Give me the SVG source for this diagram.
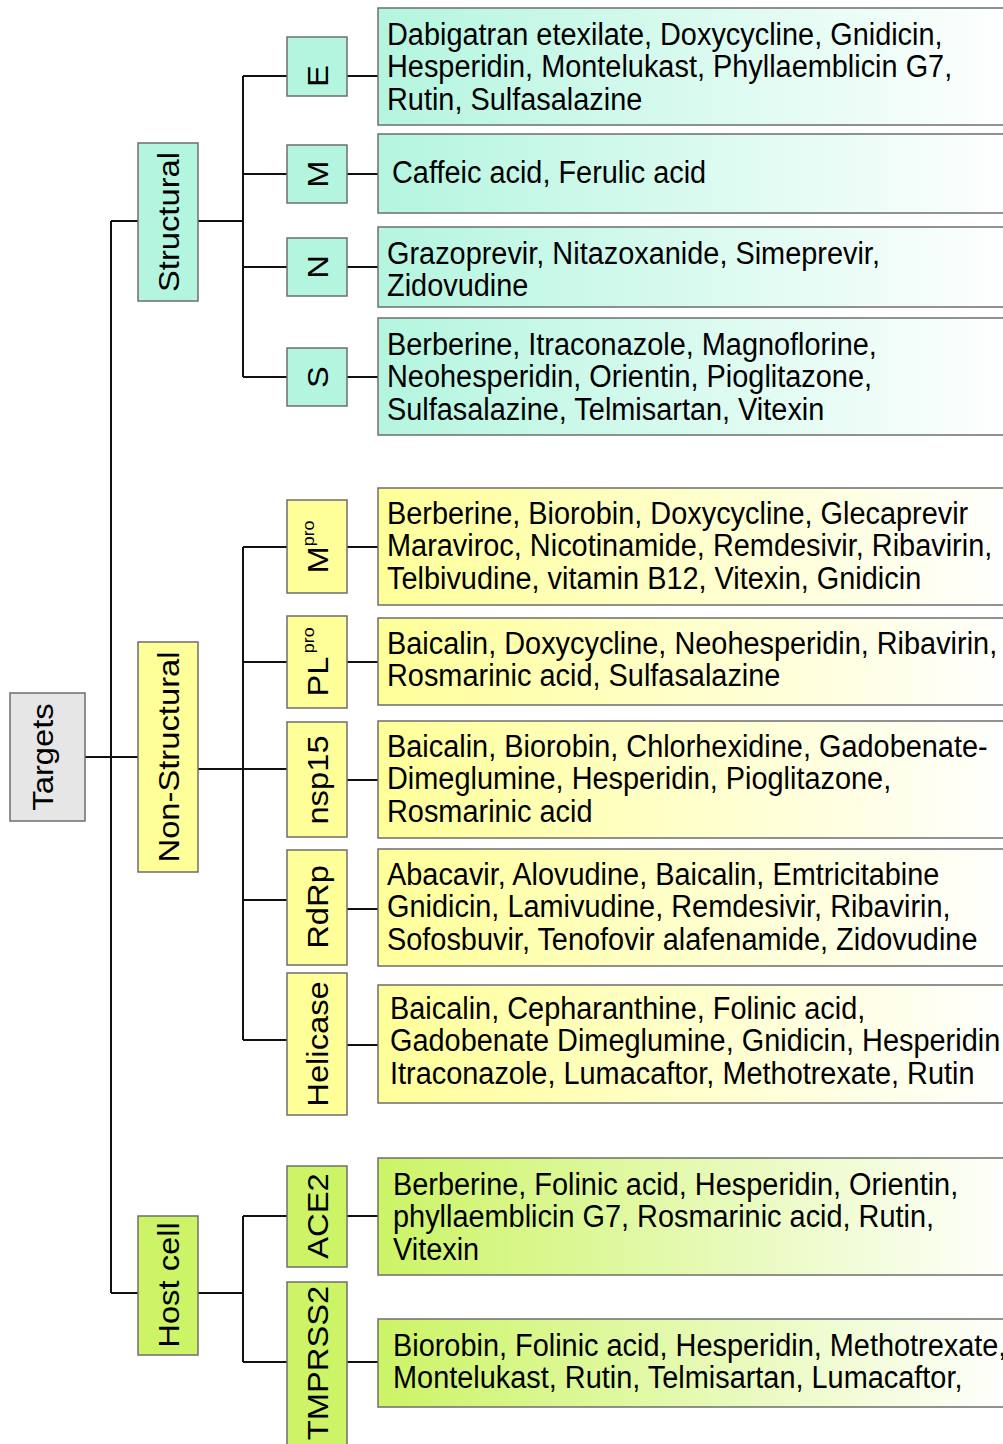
<svg xmlns="http://www.w3.org/2000/svg" width="1003" height="1444" viewBox="0 0 1003 1444">
<style>
.box{stroke:#6e6e6e;stroke-width:1.5}
.gray{fill:#e6e6e6}
.teal{fill:#b4f5e0}
.yel{fill:#ffff99}
.grn{fill:#ccf466}
.dt{fill:url(#gT)}
.dy{fill:url(#gY)}
.dg{fill:url(#gG)}
.ln{stroke:#111;stroke-width:2;fill:none}
text{font-family:"Liberation Sans",Arial,sans-serif;font-size:28.9px;fill:#000}
.r{text-anchor:middle;font-size:29.5px}
.sup{font-size:16px}
</style>
<defs>
<linearGradient id="gT" x1="0" y1="0" x2="1" y2="0"><stop offset="0" stop-color="#b4f5e0"/><stop offset="1" stop-color="#ffffff"/></linearGradient>
<linearGradient id="gY" x1="0" y1="0" x2="1" y2="0"><stop offset="0" stop-color="#ffff99"/><stop offset="1" stop-color="#ffffff"/></linearGradient>
<linearGradient id="gG" x1="0" y1="0" x2="1" y2="0"><stop offset="0" stop-color="#ccf466"/><stop offset="1" stop-color="#ffffff"/></linearGradient>
</defs>
<g id="connectors" class="ln">
<path d="M85,757H138M111,221V1293M111,221H138M111,1293H138"/>
<path d="M198,221H243M243,76V377M243,76H287M347,76H378M243,174H287M347,174H378M243,267H287M347,267H378M243,377H287M347,377H378"/>
<path d="M198,769H243M243,547V1040M243,547H287M347,547H378M243,662H287M347,662H378M243,769H287M347,780H378M243,900H287M347,909H378M243,1040H287M347,1045H378"/>
<path d="M198,1293H243M243,1216V1362M243,1216H287M347,1216H378M243,1362H287M347,1362H378"/>
</g>
<g id="targets"><rect class="box gray" x="10" y="693" width="75" height="128"/><text class="r" transform="translate(53,757) scale(1,1.11) rotate(-90)">Targets</text></g>
<g id="structural"><rect class="box teal" x="138" y="143" width="60" height="158"/><text class="r" transform="translate(178.5,222) scale(1,1.11) rotate(-90)">Structural</text></g>
<g id="nonstructural"><rect class="box yel" x="138" y="642" width="60" height="230"/><text class="r" transform="translate(178.5,757) scale(1,1.11) rotate(-90)">Non-Structural</text></g>
<g id="hostcell"><rect class="box grn" x="138" y="1216" width="60" height="139"/><text class="r" transform="translate(178.5,1285) scale(1,1.11) rotate(-90)">Host cell</text></g>
<g id="E"><rect class="box teal" x="287" y="37" width="60" height="59"/><text class="r" transform="translate(328,76) scale(1,1.11) rotate(-90)">E</text></g>
<g id="M"><rect class="box teal" x="287" y="145" width="60" height="58"/><text class="r" transform="translate(328,174) scale(1,1.11) rotate(-90)">M</text></g>
<g id="N"><rect class="box teal" x="287" y="238" width="60" height="58"/><text class="r" transform="translate(328,267) scale(1,1.11) rotate(-90)">N</text></g>
<g id="S"><rect class="box teal" x="287" y="348" width="60" height="58"/><text class="r" transform="translate(328,377) scale(1,1.11) rotate(-90)">S</text></g>
<g id="Mpro"><rect class="box yel" x="287" y="500" width="60" height="93"/><text class="r" transform="translate(328,547) scale(1,1.11) rotate(-90)">M<tspan class="sup" dy="-14">pro</tspan></text></g>
<g id="PLpro"><rect class="box yel" x="287" y="616" width="60" height="92"/><text class="r" transform="translate(328,662) scale(1,1.11) rotate(-90)">PL<tspan class="sup" dx="3" dy="-14">pro</tspan></text></g>
<g id="nsp15"><rect class="box yel" x="287" y="722" width="60" height="115"/><text class="r" transform="translate(328,780) scale(1,1.11) rotate(-90)">nsp15</text></g>
<g id="RdRp"><rect class="box yel" x="287" y="850" width="60" height="115"/><text class="r" transform="translate(328,907) scale(1,1.11) rotate(-90)">RdRp</text></g>
<g id="Helicase"><rect class="box yel" x="287" y="973" width="60" height="142"/><text class="r" transform="translate(328,1044) scale(1,1.11) rotate(-90)">Helicase</text></g>
<g id="ACE2"><rect class="box grn" x="287" y="1166" width="60" height="101"/><text class="r" transform="translate(328,1216) scale(1,1.11) rotate(-90)">ACE2</text></g>
<g id="TMPRSS2"><rect class="box grn" x="287" y="1282" width="60" height="170"/><text class="r" transform="translate(328,1363) scale(1,1.11) rotate(-90)">TMPRSS2</text></g>
<g id="E-drugs"><rect class="box dt" x="378" y="8" width="640" height="117"/><text transform="translate(387,45) scale(1,1.087)"><tspan x="0" y="0">Dabigatran etexilate, Doxycycline, Gnidicin,</tspan><tspan x="0" dy="29.9">Hesperidin, Montelukast, Phyllaemblicin G7,</tspan><tspan x="0" dy="29.9">Rutin, Sulfasalazine</tspan></text></g>
<g id="M-drugs"><rect class="box dt" x="378" y="134" width="640" height="79"/><text transform="translate(392,183) scale(1,1.087)">Caffeic acid, Ferulic acid</text></g>
<g id="N-drugs"><rect class="box dt" x="378" y="227" width="640" height="80"/><text transform="translate(387,263.5) scale(1,1.087)"><tspan x="0" y="0">Grazoprevir, Nitazoxanide, Simeprevir,</tspan><tspan x="0" dy="29.9">Zidovudine</tspan></text></g>
<g id="S-drugs"><rect class="box dt" x="378" y="318" width="640" height="117"/><text transform="translate(387,355) scale(1,1.087)"><tspan x="0" y="0">Berberine, Itraconazole, Magnoflorine,</tspan><tspan x="0" dy="29.9">Neohesperidin, Orientin, Pioglitazone,</tspan><tspan x="0" dy="29.9">Sulfasalazine, Telmisartan, Vitexin</tspan></text></g>
<g id="Mpro-drugs"><rect class="box dy" x="378" y="488" width="640" height="117"/><text transform="translate(387,524) scale(1,1.087)"><tspan x="0" y="0">Berberine, Biorobin, Doxycycline, Glecaprevir</tspan><tspan x="0" dy="29.9">Maraviroc, Nicotinamide, Remdesivir, Ribavirin,</tspan><tspan x="0" dy="29.9">Telbivudine, vitamin B12, Vitexin, Gnidicin</tspan></text></g>
<g id="PLpro-drugs"><rect class="box dy" x="378" y="618" width="640" height="87"/><text transform="translate(387,654) scale(1,1.087)"><tspan x="0" y="0">Baicalin, Doxycycline, Neohesperidin, Ribavirin,</tspan><tspan x="0" dy="29.9">Rosmarinic acid, Sulfasalazine</tspan></text></g>
<g id="nsp15-drugs"><rect class="box dy" x="378" y="721" width="640" height="117"/><text transform="translate(387,757) scale(1,1.087)"><tspan x="0" y="0">Baicalin, Biorobin, Chlorhexidine, Gadobenate-</tspan><tspan x="0" dy="29.9">Dimeglumine, Hesperidin, Pioglitazone,</tspan><tspan x="0" dy="29.9">Rosmarinic acid</tspan></text></g>
<g id="RdRp-drugs"><rect class="box dy" x="378" y="849" width="640" height="117"/><text transform="translate(387,885) scale(1,1.087)"><tspan x="0" y="0">Abacavir, Alovudine, Baicalin, Emtricitabine</tspan><tspan x="0" dy="29.9">Gnidicin, Lamivudine, Remdesivir, Ribavirin,</tspan><tspan x="0" dy="29.9">Sofosbuvir, Tenofovir alafenamide, Zidovudine</tspan></text></g>
<g id="Helicase-drugs"><rect class="box dy" x="378" y="985" width="640" height="118"/><text transform="translate(390,1019) scale(1,1.087)"><tspan x="0" y="0">Baicalin, Cepharanthine, Folinic acid,</tspan><tspan x="0" dy="29.9">Gadobenate Dimeglumine, Gnidicin, Hesperidin</tspan><tspan x="0" dy="29.9">Itraconazole, Lumacaftor, Methotrexate, Rutin</tspan></text></g>
<g id="ACE2-drugs"><rect class="box dg" x="378" y="1158" width="640" height="117"/><text transform="translate(393,1195) scale(1,1.087)"><tspan x="0" y="0">Berberine, Folinic acid, Hesperidin, Orientin,</tspan><tspan x="0" dy="29.9">phyllaemblicin G7, Rosmarinic acid, Rutin,</tspan><tspan x="0" dy="29.9">Vitexin</tspan></text></g>
<g id="TMPRSS2-drugs"><rect class="box dg" x="378" y="1319" width="640" height="88"/><text transform="translate(393,1355.5) scale(1,1.087)"><tspan x="0" y="0">Biorobin, Folinic acid, Hesperidin, Methotrexate,</tspan><tspan x="0" dy="29.9">Montelukast, Rutin, Telmisartan, Lumacaftor,</tspan></text></g>
</svg>
